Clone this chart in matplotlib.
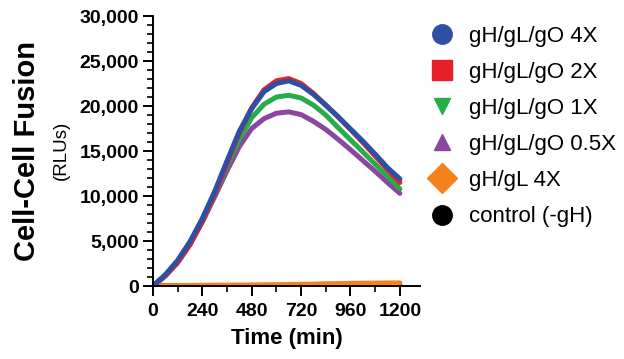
import matplotlib
matplotlib.use("Agg")
import matplotlib.pyplot as plt
from matplotlib.lines import Line2D
from matplotlib.ticker import MultipleLocator, FuncFormatter

plt.rcParams['font.family'] = ['Liberation Sans', 'DejaVu Sans']

# time points (min)
time = [0, 60, 120, 180, 240, 300, 360, 420, 480, 540, 600, 660, 720,
        780, 840, 900, 960, 1020, 1080, 1140, 1200]

# RLU readings per condition
gO_4x = [0, 1250, 2850, 4930, 7500, 10500, 13900, 17200, 19700, 21600, 22500, 22800, 22300,
         21300, 20100, 18800, 17450, 16100, 14650, 13150, 11900]
gO_2x = [0, 1150, 2600, 4600, 7200, 10200, 13600, 17000, 19800, 21800, 22800, 23050, 22500,
         21400, 20100, 18800, 17400, 15950, 14450, 12950, 11500]
gO_1x = [0, 1150, 2650, 4650, 7200, 10100, 13300, 16300, 18700, 20200, 21000, 21200, 20900,
         20100, 19000, 17600, 16250, 14900, 13550, 12200, 10800]
gO_05x = [0, 1100, 2600, 4600, 7100, 9900, 12800, 15500, 17500, 18600, 19200, 19350, 19050,
          18300, 17400, 16300, 15150, 13950, 12750, 11500, 10300]
gL_4x = [0, 30, 50, 65, 80, 90, 100, 110, 120, 135, 150, 170, 190,
         215, 250, 275, 300, 315, 330, 340, 350]
control = [0, 10, 20, 25, 30, 35, 40, 45, 50, 55, 60, 65, 70,
           75, 80, 85, 90, 95, 100, 110, 120]

labels = ['gH/gL/gO 4X', 'gH/gL/gO 2X', 'gH/gL/gO 1X', 'gH/gL/gO 0.5X', 'gH/gL 4X', 'control (-gH)']
colors = ['#2e4fa6', '#e8202a', '#27ad48', '#8b46a0', '#f4821f', '#000000']
markers = ['o', 's', 'v', '^', 'D', 'o']
msizes = [14, 14, 12, 12, 15, 14]
series = [gO_4x, gO_2x, gO_1x, gO_05x, gL_4x, control]

fig = plt.figure(figsize=(6.24, 3.59), dpi=100)
ax = fig.add_axes([0.245, 0.2033, 0.4288, 0.752])

# draw back to front so the 4X curve sits on top
for vals, c in reversed(list(zip(series, colors))):
    ax.plot(time, vals, color=c, lw=3.6, solid_capstyle='round')

ax.set_xlim(0, 1300)
ax.set_ylim(0, 30000)
ax.xaxis.set_minor_locator(MultipleLocator(120))
ax.yaxis.set_major_locator(MultipleLocator(5000))
ax.yaxis.set_minor_locator(MultipleLocator(1000))
ax.set_xticks([0, 240, 480, 720, 960, 1200])
ax.yaxis.set_major_formatter(FuncFormatter(lambda v, p: f'{int(v):,}'))

for s in ['top', 'right']:
    ax.spines[s].set_visible(False)
for s in ['left', 'bottom']:
    ax.spines[s].set_linewidth(1.4)
ax.tick_params(which='major', length=7, width=1.4, labelsize=14, pad=3)
ax.tick_params(axis='x', which='major', pad=5)
ax.tick_params(which='minor', length=4, width=1.2)
for lab in ax.get_xticklabels() + ax.get_yticklabels():
    lab.set_fontweight('bold')

ax.set_xlabel('Time (min)', fontsize=16, fontweight='bold', labelpad=6)
fig.text(0.043, 0.58, 'Cell-Cell Fusion', rotation=90, fontsize=21, fontweight='bold',
         ha='center', va='center')
fig.text(0.098, 0.582, '(RLUs)', rotation=90, fontsize=13.5, ha='center', va='center')

handles = [Line2D([], [], ls='none', marker=m, color=c, markersize=ms)
           for m, c, ms in zip(markers, colors, msizes)]
fig.legend(handles, labels, loc='upper left', bbox_to_anchor=(0.672, 0.953), frameon=False,
           fontsize=16, labelspacing=0.68, handletextpad=0.62, handlelength=1.2,
           borderaxespad=0)

fig.savefig('out.png', dpi=100)
